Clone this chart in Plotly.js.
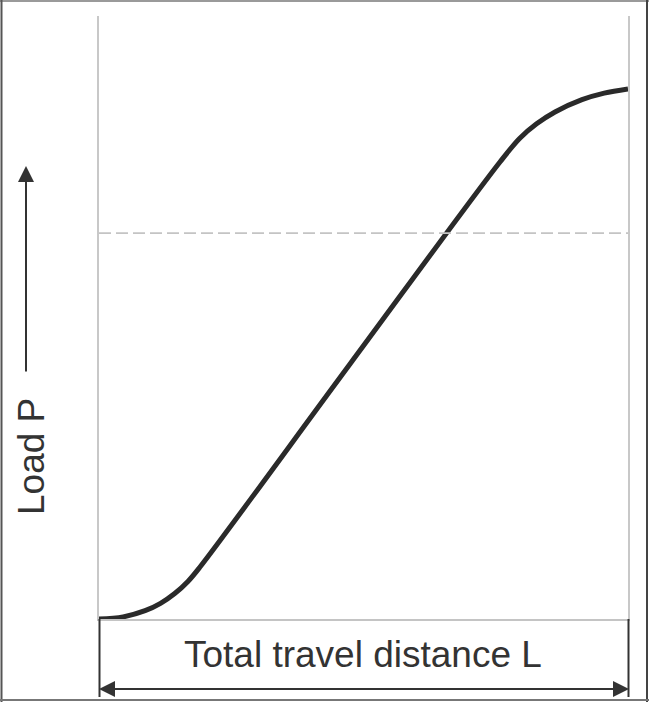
<!DOCTYPE html>
<html>
<head>
<meta charset="utf-8">
<script src="https://cdn.plot.ly/plotly-3.0.1.min.js"></script>
<style>html,body{margin:0;padding:0;background:#fff;}#chart{width:649px;height:702px;}</style>
</head>
<body>
<div id="chart"></div>
<script>
// Normalised travel distance (fraction of L) and load (fraction of max P)
const travel = [0, 0.0456, 0.0871, 0.1163, 0.1431, 0.1681, 0.1909, 0.4745, 0.7580, 0.7955, 0.8272, 0.8620, 0.9130, 0.9550, 1.0];
const load   = [0, 0.0040, 0.0157, 0.0296, 0.0481, 0.0709, 0.0981, 0.4811, 0.8623, 0.9070, 0.9342, 0.9566, 0.9798, 0.9921, 1.0];
const refLoad = 0.728;
const xLabel = "Total travel distance L";
const yLabel = "Load P";

// pixel helpers for paper coords (plot area: x 99..628, y 16..619)
const L = 99, R = 628, T = 16, B = 619;
const px = v => (v - L) / (R - L);
const py = v => (B - v) / (B - T);

const trace = {
  x: travel, y: load, mode: 'lines', type: 'scatter',
  line: {color: '#2a2a2a', width: 5, shape: 'spline', smoothing: 1},
  hoverinfo: 'skip', cliponaxis: false
};

const shapes = [
  {type: 'line', xref: 'x', yref: 'y', x0: 0, x1: 1, y0: refLoad, y1: refLoad,
   line: {color: '#c4c4c4', width: 1.6, dash: '12px,5px'}},
  // dimension lines
  {type: 'line', xref: 'paper', yref: 'paper', x0: px(99.5), x1: px(99.5), y0: py(619), y1: py(697),
   line: {color: '#333', width: 2}},
  {type: 'line', xref: 'paper', yref: 'paper', x0: px(628.5), x1: px(628.5), y0: py(619), y1: py(697),
   line: {color: '#333', width: 2}},
  {type: 'line', xref: 'paper', yref: 'paper', x0: px(104), x1: px(623), y0: py(689), y1: py(689),
   line: {color: '#333', width: 2}},
  // outer frame
  {type: 'line', xref: 'paper', yref: 'paper', x0: px(0), x1: px(649), y0: py(1), y1: py(1),
   line: {color: '#9a9a9a', width: 2}},
  {type: 'line', xref: 'paper', yref: 'paper', x0: px(1.5), x1: px(1.5), y0: py(0), y1: py(702),
   line: {color: '#555', width: 2}},
  {type: 'line', xref: 'paper', yref: 'paper', x0: px(647), x1: px(647), y0: py(0), y1: py(702),
   line: {color: '#444', width: 2}},
  {type: 'line', xref: 'paper', yref: 'paper', x0: px(0), x1: px(649), y0: py(700), y1: py(700),
   line: {color: '#777', width: 2}}
];

const font = {family: 'Liberation Sans, Arial, sans-serif', size: 37, color: '#333', weight: 300};

const annotations = [
  {xref: 'paper', yref: 'paper', x: px(363), y: py(654), text: xLabel, showarrow: false,
   font: font, xanchor: 'center', yanchor: 'middle'},
  {xref: 'paper', yref: 'paper', x: px(31), y: py(457), text: yLabel, showarrow: false,
   font: font, textangle: -90, xanchor: 'center', yanchor: 'middle'},
  // y arrow
  {xref: 'paper', yref: 'paper', x: px(26), y: py(166), ax: 0, ay: 207, axref: 'pixel', ayref: 'pixel',
   text: '', showarrow: true, arrowhead: 2, arrowsize: 1.6, arrowwidth: 2, arrowcolor: '#333'},
  // x dimension arrows
  {xref: 'paper', yref: 'paper', x: px(99), y: py(689), ax: 40, ay: 0, axref: 'pixel', ayref: 'pixel',
   text: '', showarrow: true, arrowhead: 2, arrowsize: 1.6, arrowwidth: 2, arrowcolor: '#333'},
  {xref: 'paper', yref: 'paper', x: px(629), y: py(689), ax: -40, ay: 0, axref: 'pixel', ayref: 'pixel',
   text: '', showarrow: true, arrowhead: 2, arrowsize: 1.6, arrowwidth: 2, arrowcolor: '#333'}
];

const layout = {
  width: 649, height: 702,
  margin: {l: L, r: 649 - R, t: T, b: 702 - B, pad: 0},
  paper_bgcolor: '#fff', plot_bgcolor: '#fff',
  showlegend: false,
  xaxis: {range: [0, 1], showgrid: false, zeroline: false, showticklabels: false, ticks: '',
          showline: true, linecolor: '#c4c4c4', linewidth: 2, mirror: false, fixedrange: true},
  yaxis: {range: [0, (B - T) / 530], showgrid: false, zeroline: false, showticklabels: false, ticks: '',
          showline: true, linecolor: '#c8c8c8', linewidth: 2, mirror: true, fixedrange: true},
  shapes: shapes,
  annotations: annotations
};

Plotly.newPlot('chart', [trace], layout, {displayModeBar: false, staticPlot: true});
</script>
</body>
</html>
